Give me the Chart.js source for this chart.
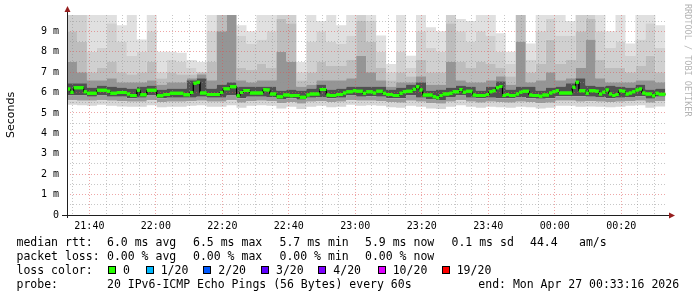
<!DOCTYPE html>
<html><head><meta charset="utf-8">
<script src="https://cdn.jsdelivr.net/npm/chart.js@4/dist/chart.umd.min.js"></script>
<style>
body{margin:0;background:#fff}
#wrap{position:relative;width:697px;height:297px;overflow:hidden;background:#fff}
#c{position:absolute;left:0;top:0}
.t{position:absolute;font-family:'DejaVu Sans Mono',monospace;font-size:11.5px;line-height:14px;color:#000;white-space:pre}
.sq{position:absolute;width:6px;height:6px;border:1px solid #000}
#rrd{position:absolute;left:683px;top:4px;writing-mode:vertical-rl;font-family:'DejaVu Sans Mono',monospace;font-size:8.5px;color:#b4b4b4;white-space:pre;line-height:10px}
</style></head>
<body><div id="wrap"><canvas id="c" width="697" height="297"></canvas><div id="legend"></div><div id="rrd">RRDTOOL / TOBI OETIKER</div></div>
<script>
// ---- time base: 21:33:16, 60 s steps, x in minutes of day ----
const startMin = 21 * 60 + 33 + 16 / 60;
const spanMin = 180.5;

// ---- median rtt (ms), one value per minute ----
const median = [
6.17,6.01,6.24,6.24,6.24,6.04,5.96,5.96,5.96,6.11,
6.11,6.11,6.06,5.96,5.96,6.0,6.0,6.0,5.93,5.85,
5.85,6.11,5.89,5.89,6.11,6.11,6.11,5.84,5.84,5.9,
5.9,5.96,5.96,5.96,5.96,5.89,5.89,6.0,6.45,6.5,
5.98,5.98,5.9,5.9,5.9,5.9,6.0,6.19,6.19,6.29,
6.29,5.84,6.0,6.1,6.1,5.98,5.98,5.98,5.98,6.14,
6.12,5.93,5.93,5.8,5.8,5.88,5.88,5.84,5.86,5.86,
5.77,5.77,5.88,5.93,5.93,5.93,6.15,6.15,5.88,5.86,
5.86,5.9,5.9,5.98,6.04,6.04,6.09,6.06,6.06,5.96,
6.04,6.04,5.98,6.06,6.06,5.96,5.91,5.91,5.86,5.86,
5.96,6.04,6.06,6.06,6.16,6.28,6.12,5.88,5.88,5.88,
5.8,5.75,5.86,5.93,5.93,5.96,6.04,6.04,6.15,6.01,
6.06,6.06,5.88,5.85,5.85,5.85,5.9,6.04,6.09,6.24,
6.3,5.86,5.9,5.85,5.85,5.93,6.01,6.06,6.06,5.88,
5.86,5.86,5.82,5.88,5.88,5.98,6.04,6.09,5.98,5.98,
5.98,5.98,6.26,6.5,6.09,6.09,5.96,6.09,6.09,6.06,
5.93,6.01,6.12,5.93,5.85,5.9,6.09,6.06,5.93,5.98,
6.04,6.12,6.18,5.98,5.93,5.93,5.84,5.96,5.92,5.92
];

// ---- smoke: band edges (ms), one value per 3-minute column ----
const smokeTop = [9.8,9.8,9.8,9.8,9.8,9.3,9.8,8.6,9.8,8.0, 8.0,7.95,7.6,7.5,9.8,9.8,9.8,9.3,9.0,9.8, 9.8,9.8,9.8,7.5,9.8,9.5,9.8,9.3,9.8,9.8, 9.8,8.8,7.4,9.8,7.8,9.8,9.2,9.0,9.8,9.6, 9.5,9.8,9.8,8.9,8.0,9.8,8.4,9.8,9.8,9.8, 9.5,9.8,9.8,9.8,9.0,9.8,8.4,9.8,9.8,9.3];
const smokeHigh2 = [9.8,9.8,8.0,8.2,9.4,8.5,7.8,8.0,9.0,7.0, 7.6,7.5,7.2,7.0,9.0,9.8,9.8,8.8,8.4,8.6, 9.0,9.8,9.8,7.0,8.5,9.0,8.5,8.4,8.8,9.8, 9.5,8.0,7.0,8.0,7.2,9.0,8.2,8.0,9.8,9.0, 8.5,9.0,8.8,8.0,7.4,9.8,7.6,9.0,9.6,8.8, 8.8,9.8,9.8,9.0,8.2,8.5,7.8,8.6,9.4,8.2];
const smokeHigh3 = [9.0,8.5,7.0,7.2,7.5,7.0,6.9,7.0,7.5,6.7, 7.0,6.9,6.9,7.0,7.5,9.8,9.8,7.2,7.1,7.4, 7.2,9.6,9.4,6.6,7.0,7.5,7.3,7.3,7.6,9.5, 8.5,7.2,6.6,7.0,6.8,7.6,7.0,7.0,9.4,7.5, 7.2,7.5,7.4,7.2,6.8,9.8,7.0,7.4,8.6,7.4, 7.6,9.0,9.6,7.6,7.2,7.2,7.0,7.3,7.8,7.0];
const smokeHigh4 = [7.5,7.0,6.6,6.6,6.7,6.5,6.5,6.5,6.6,6.4, 6.5,6.5,6.7,6.9,6.6,9.0,9.8,6.6,6.5,6.6, 6.6,8.0,7.5,6.3,6.4,6.6,6.6,6.6,6.7,7.8, 7.0,6.6,6.3,6.5,6.5,6.8,6.4,6.4,7.5,6.6, 6.5,6.5,6.6,6.8,6.4,8.5,6.5,6.6,7.0,6.6, 6.7,7.2,8.6,6.7,6.5,6.5,6.5,6.6,6.6,6.5];
const smokeCoreHigh = [6.45,6.45,6.25,6.35,6.3,6.25,6.2,6.3,6.35,6.15, 6.2,6.2,6.6,6.7,6.2,6.4,6.5,6.3,6.3,6.3, 6.3,6.1,6.15,6.1,6.2,6.4,6.15,6.2,6.3,6.3, 6.3,6.3,6.15,6.25,6.4,6.5,6.1,6.15,6.25,6.35, 6.3,6.1,6.3,6.55,6.15,6.3,6.3,6.1,6.25,6.3, 6.45,6.7,6.35,6.3,6.35,6.3,6.25,6.4,6.15,6.2];
const smokeCoreLow = [5.85,5.85,5.8,5.85,5.8,5.8,5.72,5.75,5.85,5.72, 5.75,5.75,5.75,5.8,5.75,5.75,5.85,5.72,5.8,5.8, 5.78,5.68,5.72,5.65,5.75,5.78,5.72,5.75,5.85,5.8, 5.82,5.8,5.72,5.72,5.85,5.75,5.68,5.64,5.78,5.85, 5.75,5.72,5.75,5.72,5.72,5.78,5.72,5.7,5.72,5.82, 5.82,5.82,5.8,5.78,5.72,5.75,5.78,5.82,5.7,5.8];
const smokeLow2 = [5.62,5.6,5.6,5.62,5.6,5.58,5.55,5.55,5.62,5.52, 5.55,5.55,5.58,5.6,5.55,5.55,5.62,5.5,5.58,5.6, 5.58,5.48,5.52,5.45,5.55,5.58,5.52,5.55,5.62,5.6, 5.6,5.58,5.52,5.5,5.6,5.55,5.48,5.45,5.55,5.62, 5.55,5.5,5.55,5.52,5.5,5.55,5.52,5.48,5.5,5.6, 5.6,5.55,5.58,5.55,5.52,5.55,5.58,5.6,5.5,5.58];
const smokeBottom = [5.4,5.38,5.35,5.4,5.35,5.32,5.3,5.3,5.38,5.28, 5.3,5.3,5.35,5.38,5.3,5.3,5.38,5.25,5.35,5.38, 5.35,5.22,5.3,5.2,5.3,5.35,5.28,5.3,5.4,5.35, 5.38,5.35,5.28,5.25,5.35,5.3,5.22,5.2,5.3,5.38, 5.3,5.25,5.3,5.28,5.25,5.3,5.28,5.22,5.25,5.35, 5.35,5.3,5.32,5.3,5.28,5.3,5.35,5.38,5.25,5.32];

// ---- tick labels ----
const xTickLabels = ['21:40','22:00','22:20','22:40','23:00','23:20','23:40','00:00','00:20'];
const yTickLabels = ['0','1 m','2 m','3 m','4 m','5 m','6 m','7 m','8 m','9 m'];

// ---- legend text ----
const legendHeads = ['median rtt:','packet loss:','loss color:','probe:'];
const rttStats = ['6.0 ms avg','6.5 ms max','5.7 ms min','5.9 ms now','0.1 ms sd','44.4','am/s'];
const lossStats = ['0.00 % avg','0.00 % max','0.00 % min','0.00 % now'];
const lossLabels = ['0','1/20','2/20','3/20','4/20','10/20','19/20'];
const lossColors = ['#26ff00','#00b8ff','#0059ff','#5e00ff','#7e00ff','#dd00ff','#ff0000'];
const probeText = '20 IPv6-ICMP Echo Pings (56 Bytes) every 60s';
const endText = 'end: Mon Apr 27 00:33:16 2026';

// ---------------- legend (HTML text) ----------------
(function(){
  const L = document.getElementById('legend');
  const lineTop = [234.5, 248.5, 262.5, 276.5];
  function txt(s, x, y){ const d=document.createElement('div'); d.className='t'; d.textContent=s; d.style.left=x+'px'; d.style.top=y+'px'; L.appendChild(d); }
  legendHeads.forEach((h,i)=>txt(h,16.5,lineTop[i]));
  const rttX = [107,193,279.5,365,451.5,530,579];
  rttStats.forEach((s,i)=>txt(s,rttX[i],lineTop[0]));
  lossStats.forEach((s,i)=>txt(s,rttX[i],lineTop[1]));
  const sqX = [108,145.7,203.3,261,318.3,377.7,441.7];
  lossLabels.forEach((s,i)=>{
    const q=document.createElement('div'); q.className='sq'; q.style.background=lossColors[i];
    q.style.left=sqX[i]+'px'; q.style.top=(lineTop[2]+3)+'px'; L.appendChild(q);
    txt(s, sqX[i]+15, lineTop[2]);
  });
  txt(probeText,107,lineTop[3]);
  txt(endText,478.3,lineTop[3]);
})();

// ---------------- chart ----------------
function stepPoints(arr, width){
  const pts = arr.map((v,k)=>({x:startMin+width*k, y:v}));
  pts.push({x:startMin+width*arr.length, y:arr[arr.length-1]});
  return pts;
}
// median as separate horizontal pieces (one per minute), broken by gaps
function pieces(arr){
  const pts = [];
  arr.forEach((v,i)=>{ pts.push({x:startMin+i, y:v}, {x:startMin+i+1, y:v}, {x:startMin+i+1, y:null}); });
  return pts;
}
const smokeEdges = [smokeBottom, smokeLow2, smokeCoreLow, smokeCoreHigh, smokeHigh4, smokeHigh3, smokeHigh2, smokeTop];
const smokeColors = [null,'#d6d6d6','#9c9c9c','#505050','#959595','#bdbdbd','#d0d0d0','#e0e0e0'];
const datasets = smokeEdges.map((arr,i)=>({
  type:'line', data: stepPoints(arr,3), stepped:'before',
  borderColor:'transparent', borderWidth:0, pointRadius:0,
  backgroundColor: smokeColors[i] || 'transparent',
  fill: i===0 ? false : '-1', order: 2
}));
const medianLineIndex = datasets.length;
datasets.push({
  type:'line', data: stepPoints(median,1), stepped:'before',
  borderColor:'#000', borderWidth:1, pointRadius:0, fill:false, order:1
});
const medianGreenIndex = datasets.length;
datasets.push({
  type:'line', data: pieces(median), spanGaps:false,
  borderColor:'#26ff00', borderWidth:3, borderCapStyle:'butt', pointRadius:0, fill:false, order:0
});

const minorGrid = 'rgba(143,143,143,0.5)';
const majorGrid = 'rgba(222,79,79,0.5)';

// grid is drawn above the smoke; the median is re-drawn above the grid, then the axes
const axesPlugin = {
  id:'rrdAxes',
  afterDraw(chart){
    const {ctx, chartArea:a} = chart;
    ctx.save();
    ctx.beginPath(); ctx.rect(a.left, a.top, a.right-a.left, a.bottom-a.top); ctx.clip();
    ctx.setLineDash([]);
    [medianLineIndex, medianGreenIndex].forEach(i=>chart.getDatasetMeta(i).controller.draw());
    ctx.restore();
    ctx.save();
    ctx.setLineDash([]);
    ctx.strokeStyle = 'rgb(31,31,31)'; ctx.lineWidth = 1;
    ctx.beginPath();
    ctx.moveTo(a.left-5, a.bottom+0.5); ctx.lineTo(a.right+3, a.bottom+0.5);
    ctx.moveTo(a.left+0.5, a.bottom+3); ctx.lineTo(a.left+0.5, a.top-4);
    ctx.stroke();
    ctx.fillStyle = 'rgb(150,30,30)';
    ctx.beginPath();
    ctx.moveTo(a.right+2, a.bottom-2.5); ctx.lineTo(a.right+8, a.bottom+0.5); ctx.lineTo(a.right+2, a.bottom+3.5); ctx.closePath(); ctx.fill();
    ctx.beginPath();
    ctx.moveTo(a.left-2.5, a.top-3); ctx.lineTo(a.left+0.5, a.top-9); ctx.lineTo(a.left+3.5, a.top-3); ctx.closePath(); ctx.fill();
    ctx.restore();
  }
};

new Chart(document.getElementById('c'), {
  type:'line',
  data:{datasets},
  plugins:[axesPlugin],
  options:{
    responsive:false, animation:false, devicePixelRatio:1,
    layout:{padding:{left:0,right:30,top:15,bottom:0}},
    plugins:{legend:{display:false}, tooltip:{enabled:false}},
    scales:{
      x:{
        type:'linear', min:startMin, max:startMin+spanMin, offset:false,
        afterFit:s=>{ s.height = 82; },
        afterBuildTicks:s=>{ const t=[]; for(let v=1295; v<=1470; v+=5) t.push({value:v}); s.ticks=t; },
        grid:{ offset:false, drawTicks:false, z:1, lineWidth:1,
          color:c=>{ const v=c.tick&&c.tick.value; if(v==null) return 'transparent'; return v%20===0?majorGrid:minorGrid; } },
        border:{display:false, dash:[1,2]},
        ticks:{ autoSkip:false, maxRotation:0, padding:5, color:'#000',
          font:{family:'DejaVu Sans Mono', size:10},
          callback:v=>{ if(v%20!==0) return ''; const i=(v-1300)/20; return xTickLabels[i]||''; } }
      },
      y:{
        type:'linear', min:0, max:9.8,
        afterFit:s=>{ s.width = 67; },
        afterBuildTicks:s=>{ const t=[]; for(let v=0; v<=9.5; v+=0.5) t.push({value:v}); s.ticks=t; },
        grid:{ drawTicks:false, z:1, lineWidth:1,
          color:c=>{ const v=c.tick&&c.tick.value; if(v==null) return 'transparent'; return Math.abs(v-Math.round(v))<1e-6?majorGrid:minorGrid; } },
        border:{display:false, dash:[1,2]},
        title:{display:true, text:'Seconds', color:'#000', font:{family:'DejaVu Sans', size:11}, padding:{top:5,bottom:2}},
        ticks:{ autoSkip:false, padding:8, color:'#000',
          font:{family:'DejaVu Sans Mono', size:10},
          callback:v=>{ if(Math.abs(v-Math.round(v))>1e-6) return ''; return yTickLabels[Math.round(v)]||''; } }
      }
    }
  }
});
</script>
</body></html>
